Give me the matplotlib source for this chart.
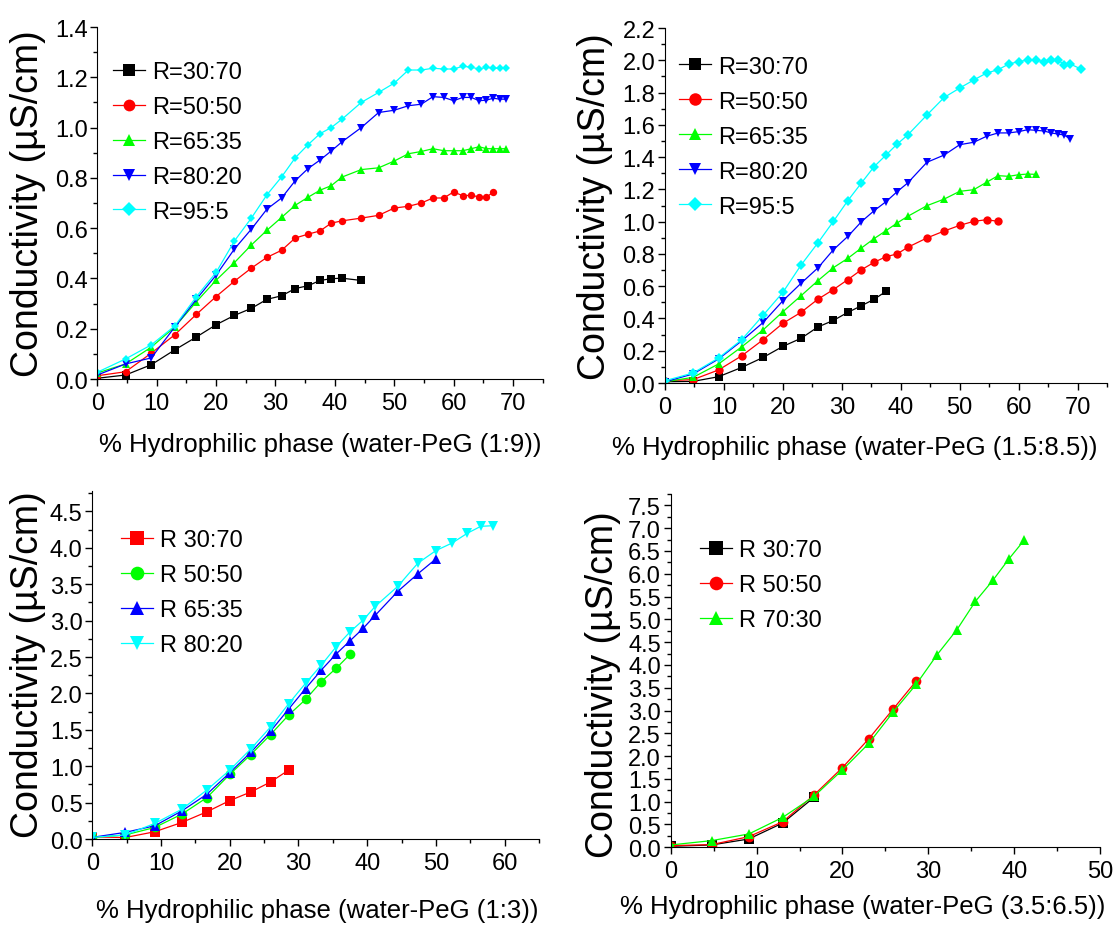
import matplotlib
matplotlib.use('Agg')
import matplotlib.pyplot as plt
from matplotlib.ticker import MultipleLocator, FormatStrFormatter

plt.rcParams['font.family'] = ['Liberation Sans', 'DejaVu Sans']

# --- DATA ---
# water-addition x positions (% hydrophilic phase), shared by all series
x_pts = [0, 4.76, 9.09, 13.04, 16.67, 20.0, 23.08, 25.93, 28.57, 31.03, 33.33, 35.48, 37.5,
         39.39, 41.18, 44.44, 47.37, 50.0, 52.38, 54.55, 56.52, 58.33, 60.0, 61.54, 62.96,
         64.29, 65.52, 66.67, 67.74, 68.75, 70.59]

# panel a: water-PeG (1:9)
a_labels = ['R=30:70', 'R=50:50', 'R=65:35', 'R=80:20', 'R=95:5']
a_black = [0.003, 0.016, 0.057, 0.116, 0.167, 0.216, 0.253, 0.281, 0.317, 0.331, 0.360, 0.371,
           0.392, 0.399, 0.401, 0.392]
a_red = [0.013, 0.029, 0.103, 0.176, 0.257, 0.328, 0.389, 0.441, 0.484, 0.512, 0.561, 0.576,
         0.589, 0.620, 0.629, 0.640, 0.651, 0.680, 0.687, 0.700, 0.720, 0.720, 0.744, 0.729,
         0.731, 0.724, 0.723, 0.744]
a_green = [0.024, 0.060, 0.127, 0.207, 0.307, 0.393, 0.463, 0.533, 0.592, 0.643, 0.691, 0.723,
           0.751, 0.769, 0.803, 0.833, 0.840, 0.867, 0.896, 0.905, 0.916, 0.908, 0.908, 0.908,
           0.916, 0.924, 0.916, 0.916, 0.916, 0.916]
a_blue = [0.016, 0.060, 0.084, 0.207, 0.317, 0.413, 0.517, 0.596, 0.676, 0.720, 0.789, 0.837,
          0.871, 0.907, 0.943, 1.000, 1.060, 1.069, 1.087, 1.093, 1.123, 1.120, 1.107, 1.120,
          1.120, 1.107, 1.109, 1.117, 1.113, 1.113]
a_cyan = [0.027, 0.080, 0.136, 0.211, 0.327, 0.424, 0.549, 0.640, 0.733, 0.804, 0.880, 0.932,
          0.976, 1.000, 1.033, 1.100, 1.140, 1.177, 1.229, 1.229, 1.236, 1.233, 1.233, 1.244,
          1.240, 1.233, 1.240, 1.236, 1.236, 1.236]

# panel b: water-PeG (1.5:8.5)
b_labels = a_labels
b_black = [0.008, 0.010, 0.039, 0.097, 0.159, 0.227, 0.277, 0.347, 0.388, 0.438, 0.479, 0.519, 0.568]
b_red = [0.014, 0.021, 0.081, 0.169, 0.269, 0.370, 0.438, 0.519, 0.579, 0.641, 0.702, 0.748,
         0.783, 0.800, 0.841, 0.899, 0.942, 0.977, 1.002, 1.012, 1.002]
b_green = [0.008, 0.035, 0.118, 0.225, 0.330, 0.442, 0.541, 0.634, 0.715, 0.773, 0.837, 0.895,
           0.944, 0.992, 1.033, 1.099, 1.140, 1.188, 1.198, 1.244, 1.285, 1.281, 1.291, 1.295, 1.293]
b_blue = [0.008, 0.056, 0.149, 0.262, 0.376, 0.510, 0.618, 0.713, 0.826, 0.909, 1.000, 1.068,
          1.124, 1.186, 1.240, 1.368, 1.413, 1.477, 1.492, 1.529, 1.550, 1.550, 1.558, 1.570,
          1.566, 1.562, 1.550, 1.543, 1.537, 1.512]
b_cyan = [0.014, 0.062, 0.155, 0.269, 0.421, 0.562, 0.731, 0.868, 1.002, 1.131, 1.240, 1.341,
          1.413, 1.481, 1.537, 1.661, 1.770, 1.828, 1.878, 1.921, 1.942, 1.977, 1.992, 2.002,
          2.002, 1.992, 2.002, 2.002, 1.973, 1.977, 1.946]

# panel c: water-PeG (1:3)
c_labels = ['R 30:70', 'R 50:50', 'R 65:35', 'R 80:20']
c_red = [0.030, 0.020, 0.100, 0.228, 0.374, 0.528, 0.647, 0.783, 0.947]
c_green = [0.023, 0.055, 0.159, 0.342, 0.569, 0.888, 1.161, 1.434, 1.703, 1.917, 2.163, 2.345, 2.536]
c_blue = [0.023, 0.091, 0.182, 0.387, 0.615, 0.911, 1.193, 1.480, 1.785, 2.067, 2.322, 2.541,
          2.723, 2.892, 3.074, 3.401, 3.643, 3.848]
c_cyan = [0.023, 0.055, 0.214, 0.410, 0.674, 0.947, 1.239, 1.539, 1.858, 2.140, 2.390, 2.641,
          2.846, 3.005, 3.197, 3.470, 3.789, 3.962, 4.067, 4.199, 4.295, 4.304]

# panel d: water-PeG (3.5:6.5)
d_labels = ['R 30:70', 'R 50:50', 'R 70:30']
d_black = [0.022, 0.051, 0.182, 0.532, 1.093]
d_red = [0.036, 0.058, 0.233, 0.561, 1.144, 1.749, 2.383, 3.039, 3.644]
d_green = [0.051, 0.146, 0.292, 0.656, 1.115, 1.698, 2.281, 2.974, 3.571, 4.227, 4.774, 5.394,
           5.853, 6.327, 6.742]


def style_axes(ax, xlim, ylim, xmaj, ymaj, xlabel, xl_pos, yl_pos):
    ax.set_xlim(*xlim)
    ax.set_ylim(*ylim)
    for s in ['top', 'right']:
        ax.spines[s].set_visible(False)
    ax.xaxis.set_major_locator(MultipleLocator(xmaj))
    ax.xaxis.set_minor_locator(MultipleLocator(xmaj / 2))
    ax.yaxis.set_major_locator(MultipleLocator(ymaj))
    ax.yaxis.set_minor_locator(MultipleLocator(ymaj / 2))
    ax.yaxis.set_major_formatter(FormatStrFormatter('%.1f'))
    ax.tick_params(which='major', direction='out', length=5, width=1, labelsize=17, pad=2)
    ax.tick_params(which='minor', direction='out', length=3, width=1)
    ax.tick_params(axis='x', which='major', pad=4)
    ax.set_xlabel(xlabel, fontsize=18.5)
    ax.set_ylabel('Conductivity (µS/cm)', fontsize=27)
    ax.xaxis.set_label_coords(*xl_pos)
    ax.yaxis.set_label_coords(*yl_pos)
    ax.xaxis.label.set_va('center')
    ax.yaxis.label.set_va('center')


fig = plt.figure(figsize=(11.19, 9.28), dpi=100)
ax1 = fig.add_axes([0.087, 0.5905, 0.398, 0.3793])
ax2 = fig.add_axes([0.5943, 0.5862, 0.395, 0.3825])
ax3 = fig.add_axes([0.0825, 0.0948, 0.3992, 0.375])
ax4 = fig.add_axes([0.5994, 0.0859, 0.3837, 0.3807])

for ax, series, labels, ms in [
        (ax1, [(a_black, 'k', 's'), (a_red, '#FF0000', 'o'), (a_green, '#00FF00', '^'),
               (a_blue, '#0000FF', 'v'), (a_cyan, '#00FFFF', 'D')], a_labels, 5.3),
        (ax2, [(b_black, 'k', 's'), (b_red, '#FF0000', 'o'), (b_green, '#00FF00', '^'),
               (b_blue, '#0000FF', 'v'), (b_cyan, '#00FFFF', 'D')], b_labels, 6.0),
        (ax3, [(c_red, '#FF0000', 's'), (c_green, '#00FF00', 'o'), (c_blue, '#0000FF', '^'),
               (c_cyan, '#00FFFF', 'v')], c_labels, 7.0),
        (ax4, [(d_black, 'k', 's'), (d_red, '#FF0000', 'o'), (d_green, '#00FF00', '^')], d_labels, 7.0)]:
    for (y, col, mk), lab in zip(series, labels):
        size = ms * (0.8 if mk == 'D' else 1.0)
        ax.plot(x_pts[:len(y)], y, color=col, marker=mk, markersize=size, mec=col, mew=0,
                linewidth=0.9, label=lab)

style_axes(ax1, (0, 75), (0, 1.4), 10, 0.2, '% Hydrophilic phase (water-PeG (1:9))',
           (0.5, -0.185), (-0.155, 0.5))
style_axes(ax2, (0, 75), (0, 2.2), 10, 0.2, '% Hydrophilic phase (water-PeG (1.5:8.5))',
           (0.43, -0.18), (-0.158, 0.5))
style_axes(ax3, (0, 65), (0, 4.78), 10, 0.5, '% Hydrophilic phase (water-PeG (1:3))',
           (0.503, -0.205), (-0.144, 0.503))
style_axes(ax4, (0, 50), (0, 7.75), 10, 0.5, '% Hydrophilic phase (water-PeG (3.5:6.5))',
           (0.446, -0.166), (-0.158, 0.462))

for ax, anchor, mscale in [(ax1, (0.035, 0.904), 1.6), (ax2, (0.032, 0.922), 1.5),
                           (ax3, (0.064, 0.891), 1.4), (ax4, (0.068, 0.873), 1.4)]:
    ax.legend(loc='upper left', bbox_to_anchor=anchor, frameon=False, fontsize=17,
              handlelength=1.35, handletextpad=0.3, labelspacing=0.55, borderpad=0,
              borderaxespad=0, markerscale=mscale)

plt.savefig('out.png', dpi=100)
